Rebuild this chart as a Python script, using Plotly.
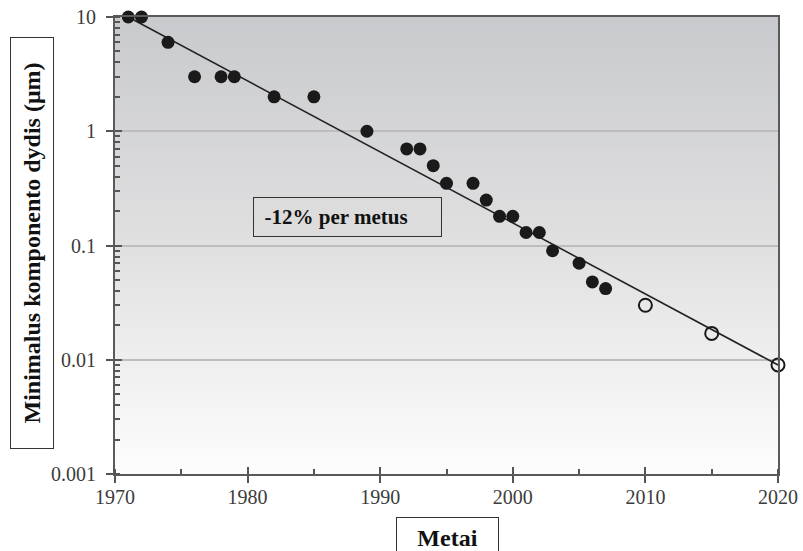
import base64, struct, zlib
import plotly.graph_objects as go

# ---- data ----
years_measured = [1971, 1972, 1974, 1976, 1978, 1979, 1982, 1985, 1989, 1992, 1993, 1994,
                  1995, 1997, 1998, 1999, 2000, 2001, 2002, 2003, 2005, 2006, 2007]
size_measured = [10, 10, 6, 3, 3, 3, 2, 2, 1, 0.7, 0.7, 0.5,
                 0.35, 0.35, 0.25, 0.18, 0.18, 0.13, 0.13, 0.09, 0.07, 0.048, 0.042]
years_projected = [2010, 2015, 2020]
size_projected = [0.03, 0.017, 0.009]
trend_years = [1971, 2020]
trend_values = [10, 0.009]
y_tickvals = [0.001, 0.01, 0.1, 1, 10]
y_ticktext = ["0.001", "0.01", "0.1", "1", "10"]
x_tickvals = [1970, 1980, 1990, 2000, 2010, 2020]
x_ticktext = ["1970", "1980", "1990", "2000", "2010", "2020"]


# ---- vertical gradient background as a tiny PNG ----
def gradient_png(h, top, mid, bottom):
    rows = b""
    for i in range(h):
        t = i / (h - 1)
        if t < 0.5:
            a, b, f = top, mid, t / 0.5
        else:
            a, b, f = mid, bottom, (t - 0.5) / 0.5
        c = [round(a[k] + (b[k] - a[k]) * f) for k in range(3)]
        rows += b"\x00" + bytes(c)
    def chunk(tag, data):
        return struct.pack(">I", len(data)) + tag + data + struct.pack(">I", zlib.crc32(tag + data) & 0xffffffff)
    png = b"\x89PNG\r\n\x1a\n"
    png += chunk(b"IHDR", struct.pack(">IIBBBBB", 1, h, 8, 2, 0, 0, 0))
    png += chunk(b"IDAT", zlib.compress(rows))
    png += chunk(b"IEND", b"")
    return "data:image/png;base64," + base64.b64encode(png).decode()

bg_src = gradient_png(256, (201, 202, 205), (224, 224, 225), (253, 253, 253))

serif = "Liberation Serif"
dark = "#1a1a1a"

fig = go.Figure()
fig.add_trace(go.Scatter(x=trend_years, y=trend_values, mode="lines",
                         line=dict(color="#222222", width=1.6), hoverinfo="skip",
                         showlegend=False, cliponaxis=False))
fig.add_trace(go.Scatter(x=years_measured, y=size_measured, mode="markers",
                         marker=dict(color=dark, size=13, line=dict(width=0)),
                         showlegend=False, cliponaxis=False))
fig.add_trace(go.Scatter(x=years_projected, y=size_projected, mode="markers",
                         marker=dict(symbol="circle-open", color=dark, size=13, line=dict(width=2)),
                         showlegend=False, cliponaxis=False))
# invisible trace to carry the inner tick axes
fig.add_trace(go.Scatter(x=[1970], y=[1], xaxis="x2", yaxis="y2", mode="markers",
                         marker=dict(opacity=0), showlegend=False, hoverinfo="skip"))

axis_font = dict(family=serif, size=20, color="#3c3c3c")

fig.update_layout(
    width=803, height=551,
    margin=dict(l=115, r=25, t=17, b=77, autoexpand=False),
    paper_bgcolor="white", plot_bgcolor="white",
    xaxis=dict(range=[1970, 2020], tickvals=x_tickvals, ticktext=x_ticktext,
               ticks="outside", ticklen=7, tickwidth=1.5, tickcolor="#555555",
               minor=dict(ticks="inside", ticklen=5, tickwidth=1.5, tickcolor="#555555",
                          dtick=5, showgrid=False),
               showgrid=False, zeroline=False,
               showline=True, linecolor="#5a5a5a", linewidth=2, mirror=True,
               tickfont=axis_font, ticklabelstandoff=-3, ticklabeloverflow="allow"),
    yaxis=dict(type="log", range=[-3, 1], tickvals=y_tickvals, ticktext=y_ticktext,
               ticks="outside", ticklen=7, tickwidth=1.5, tickcolor="#555555",
               minor=dict(ticks="inside", ticklen=5, tickwidth=1.5, tickcolor="#555555",
                          dtick="D1", showgrid=False),
               showgrid=True, gridcolor="#bdbdbf", gridwidth=1.5, zeroline=False,
               showline=True, linecolor="#5a5a5a", linewidth=2, mirror=True,
               tickfont=axis_font, ticklabelstandoff=6, ticklabeloverflow="allow"),
    xaxis2=dict(overlaying="x", range=[1970, 2020], tickvals=x_tickvals, ticks="inside",
                ticklen=7, tickwidth=1.5, tickcolor="#555555", showticklabels=False,
                showgrid=False, zeroline=False, showline=False),
    yaxis2=dict(overlaying="y", type="log", range=[-3, 1], tickvals=y_tickvals, ticks="inside",
                ticklen=7, tickwidth=1.5, tickcolor="#555555", showticklabels=False,
                showgrid=False, zeroline=False, showline=False),
    images=[dict(source=bg_src, xref="paper", yref="paper", x=0, y=1, sizex=1, sizey=1,
                 xanchor="left", yanchor="top", sizing="stretch", layer="below")],
    annotations=[
        dict(text="<b>&nbsp;&nbsp;-12% per metus</b>", xref="paper", yref="paper",
             x=0.3507, y=0.5624, xanchor="center", yanchor="middle", showarrow=False,
             font=dict(family=serif, size=21, color="#111111"), align="left",
             width=187, height=38, borderpad=0, bgcolor="#dcdcdc",
             bordercolor="#333333", borderwidth=1),
        dict(text="<b>Minimalus komponento dydis (μm)</b>", xref="paper", yref="paper",
             x=(32.5 - 115) / 663, y=0.5044, xanchor="center", yanchor="middle",
             showarrow=False, textangle=-90,
             font=dict(family=serif, size=24, color="#111111"),
             width=410, height=42, borderpad=0, bgcolor="white",
             bordercolor="#333333", borderwidth=1),
        dict(text="<b>Metai</b>", xref="paper", yref="paper",
             x=(447 - 115) / 663, y=(474 - 517) / 457, xanchor="center", yanchor="top",
             showarrow=False, font=dict(family=serif, size=24, color="#111111"),
             width=101, height=40, borderpad=0, bgcolor="white",
             bordercolor="#333333", borderwidth=1),
    ],
)

fig.write_html("out.html", config={"displayModeBar": False},
               post_script="document.body.style.margin='0';document.body.style.overflow='hidden';")
